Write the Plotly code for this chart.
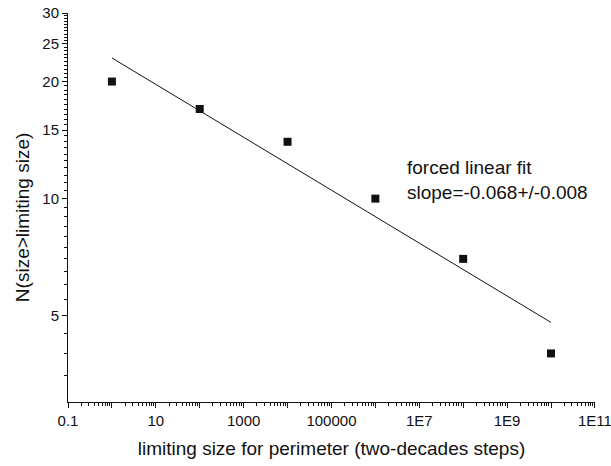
import numpy as np
import plotly.graph_objects as go

# Data
limit_size = [1, 100, 1e4, 1e6, 1e8, 1e10]
n_greater = [20, 17, 14, 10, 7, 4]

fit_x = [1, 1e10]
fit_intercept = 23.0
fit_slope = -0.068

x_major = [10.0 ** k for k in range(-1, 12)]
x_major_text = ["0.1", "", "10", "", "1000", "", "100000", "", "1E7", "", "1E9", "", "1E11"]
x_minor = [m * 10.0 ** k for k in range(-1, 11) for m in range(2, 10)]

y_major = [5, 10, 15, 20, 25, 30]
y_minor = [v / 2 for v in range(7, 60) if (v / 2) not in y_major]

fit_y = [fit_intercept * x ** fit_slope for x in fit_x]

FONT = "Liberation Sans, Arial, sans-serif"

fig = go.Figure()
fig.add_trace(go.Scatter(
    x=fit_x, y=fit_y, mode="lines",
    line=dict(color="#111111", width=1), showlegend=False, hoverinfo="skip"))
fig.add_trace(go.Scatter(
    x=limit_size, y=n_greater, mode="markers",
    marker=dict(symbol="square", size=8, color="#111111"),
    showlegend=False))

fig.add_annotation(
    xref="paper", yref="paper", x=0.639, y=0.571,
    xanchor="left", yanchor="middle", align="left", showarrow=False,
    text="forced linear fit<br>slope=-0.068+/-0.008",
    font=dict(family=FONT, size=19, color="#111111"))

# y-axis title placed as rotated annotation
fig.add_annotation(
    xref="paper", yref="paper", x=-0.0863, y=0.474,
    xanchor="center", yanchor="middle", showarrow=False, textangle=-90,
    text="N(size>limiting size)",
    font=dict(family=FONT, size=19, color="#111111"))

fig.update_layout(
    width=611, height=466,
    margin=dict(l=68, r=16, t=13, b=64),
    paper_bgcolor="white", plot_bgcolor="white",
    font=dict(family=FONT, color="#111111"),
    xaxis=dict(
        type="log", range=[-1, 11.002], automargin=False,
        tickmode="array", tickvals=x_major, ticktext=x_major_text,
        ticklabeloverflow="allow",
        ticks="outside", ticklen=5, tickwidth=1, tickcolor="#111111",
        minor=dict(tickmode="array", tickvals=x_minor, ticks="outside",
                   ticklen=3, tickwidth=1, tickcolor="#111111", showgrid=False),
        showline=True, linecolor="#111111", linewidth=1,
        showgrid=False, zeroline=False,
        tickfont=dict(size=15, family=FONT, color="#111111"),
        title=dict(text="limiting size for perimeter (two-decades steps)",
                   font=dict(size=19, family=FONT, color="#111111"), standoff=13),
    ),
    yaxis=dict(
        type="log", range=[np.log10(3), np.log10(30.01)], automargin=False,
        tickmode="array", tickvals=y_major, ticktext=[str(v) for v in y_major],
        ticks="outside", ticklen=5, tickwidth=1, tickcolor="#111111",
        minor=dict(tickmode="array", tickvals=y_minor, ticks="outside",
                   ticklen=3, tickwidth=1, tickcolor="#111111", showgrid=False),
        showline=True, linecolor="#111111", linewidth=1,
        showgrid=False, zeroline=False,
        tickfont=dict(size=15, family=FONT, color="#111111"),
    ),
)

fig.write_html("out.html")
